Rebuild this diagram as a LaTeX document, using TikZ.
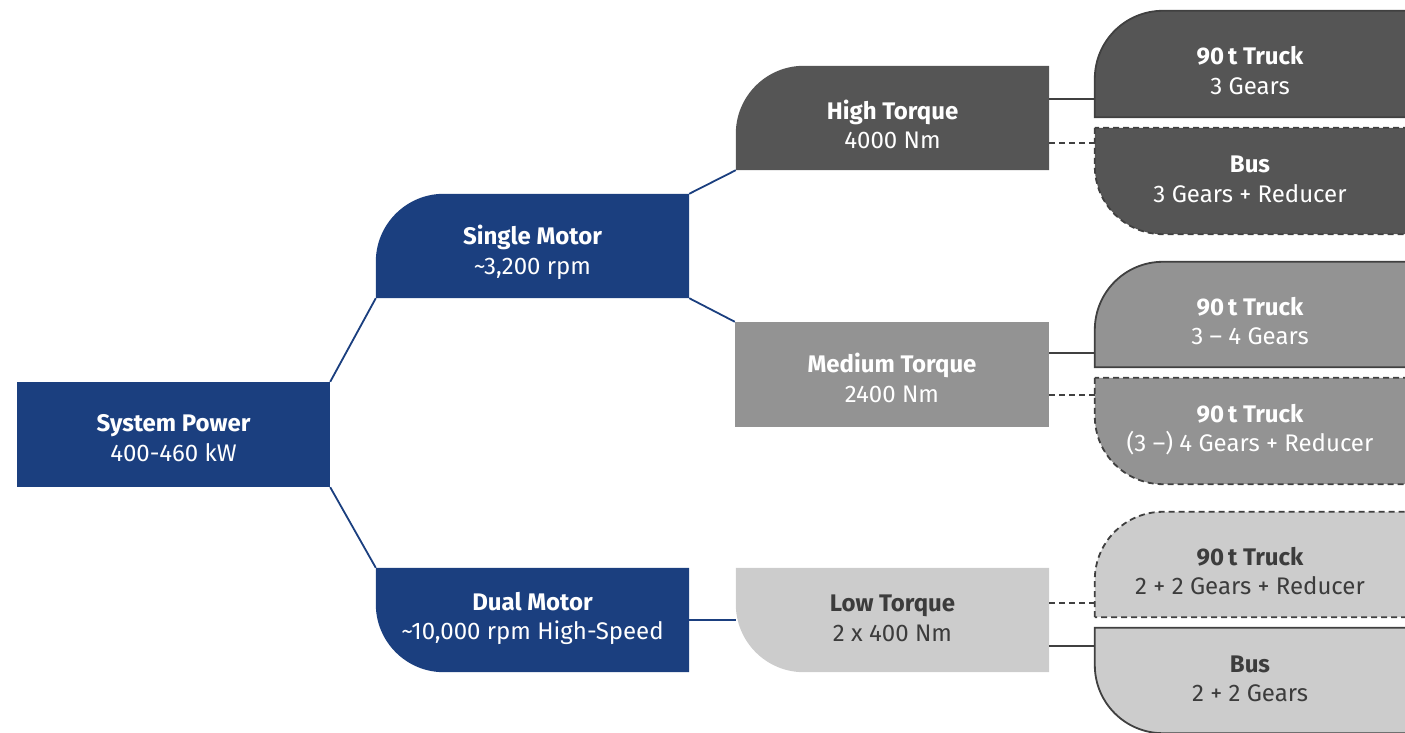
\documentclass[tikz,border=0pt]{standalone}
\usepackage{fontspec}
\setmainfont{Fira Sans}
\usetikzlibrary{backgrounds}
\definecolor{navy}{HTML}{1B3F7F}
\definecolor{gdark}{HTML}{555555}
\definecolor{gmid}{HTML}{939393}
\definecolor{glight}{HTML}{CCCCCC}
\definecolor{gline}{HTML}{404040}
\definecolor{gtext}{HTML}{3C3C3C}
\newcommand\shpTL[4]{% node, style, radius, extra right
  \path[#2] (#1.south west) -- ([yshift=-#3]#1.north west)
    arc[start angle=180,end angle=90,radius=#3] -- ([xshift=#4]#1.north east)
    -- ([xshift=#4]#1.south east) -- cycle;}
\newcommand\shpBL[4]{%
  \path[#2] (#1.north west) -- ([yshift=#3]#1.south west)
    arc[start angle=180,end angle=270,radius=#3] -- ([xshift=#4]#1.south east)
    -- ([xshift=#4]#1.north east) -- cycle;}
\newcommand\shpR[4]{%
  \path[#2] (#1.north west) -- ([xshift=#4]#1.north east)
    -- ([xshift=#4]#1.south east) -- (#1.south west) -- cycle;}
\begin{document}
\begin{tikzpicture}[x=1pt,y=1pt,
  box/.style={minimum width=313pt, minimum height=104pt, inner sep=0pt},
  rbox/.style={box, minimum width=310pt, minimum height=106pt},
  lbl/.style={align=center, font=\fontsize{24}{29.5}\selectfont, text=white,
    inner sep=0pt},
  tl/.style={yshift=-6.5pt},
  bl/.style={yshift=1.5pt},
  rc/.style={yshift=-3.5pt},
  dk/.style={text=gtext},
  blueline/.style={draw=navy, line width=1.8pt},
  greyline/.style={draw=gline, line width=1.8pt},
  dashline/.style={greyline, dash pattern=on 6pt off 4pt},
  solidedge/.style={draw=gline, line width=1.8pt},
  dashedge/.style={draw=gline, line width=1.8pt, dash pattern=on 6pt off 4pt}]
\useasboundingbox (0,0) rectangle (1405,733);
\clip (0,0) rectangle (1405,733);
% nodes
\node[box, minimum height=105pt, label={[lbl,rc]center:{\bfseries System Power\\400-460 kW}}] (sp) at (173.5,298.5) {};
\node[box, label={[lbl,tl]center:{\bfseries Single Motor\\\char`~3,200 rpm}}] (sm) at (532.5,487) {};
\node[box, label={[lbl,bl]center:{\bfseries Dual Motor\\\char`~10,000 rpm High-Speed}}] (dm) at (532.5,113) {};
\node[box, label={[lbl,tl]center:{\bfseries High Torque\\4000 Nm}}] (ht) at (892.5,615) {};
\node[box, minimum width=314pt, minimum height=105pt, label={[lbl,rc]center:{\bfseries Medium Torque\\2400 Nm}}] (mt) at (892,358.5) {};
\node[box, label={[lbl,bl,dk]center:{\bfseries Low Torque\\2 x 400 Nm}}] (lt) at (892.5,113) {};
\node[rbox, label={[lbl,tl]center:{\bfseries 90\,t Truck\\3 Gears}}] (r1) at (1250,669) {};
\node[rbox, label={[lbl,bl]center:{\bfseries Bus\\3 Gears + Reducer}}] (r2) at (1250,552) {};
\node[rbox, minimum height=105pt, label={[lbl,tl]center:{\bfseries 90\,t Truck\\3 – 4 Gears}}] (r3) at (1250,418.5) {};
\node[rbox, label={[lbl,bl]center:{\bfseries 90\,t Truck\\(3 –) 4 Gears + Reducer}}] (r4) at (1250,302) {};
\node[rbox, minimum height=105pt, label={[lbl,tl,dk]center:{\bfseries 90\,t Truck\\2 + 2 Gears + Reducer}}] (r5) at (1250,168.5) {};
\node[rbox, minimum height=105pt, label={[lbl,bl,dk]center:{\bfseries Bus\\2 + 2 Gears}}] (r6) at (1250,52.5) {};
% shapes
\begin{scope}[on background layer]
  \shpR{sp}{fill=navy}{0pt}{0pt}
  \shpTL{sm}{fill=navy}{68pt}{0pt}
  \shpBL{dm}{fill=navy}{68pt}{0pt}
  \shpTL{ht}{fill=gdark}{68pt}{0pt}
  \shpR{mt}{fill=gmid}{0pt}{0pt}
  \shpBL{lt}{fill=glight}{68pt}{0pt}
  \shpTL{r1}{fill=gdark, solidedge}{68pt}{30pt}
  \shpBL{r2}{fill=gdark, dashedge}{68pt}{30pt}
  \shpTL{r3}{fill=gmid, solidedge}{68pt}{30pt}
  \shpBL{r4}{fill=gmid, dashedge}{68pt}{30pt}
  \shpTL{r5}{fill=glight, dashedge}{68pt}{30pt}
  \shpBL{r6}{fill=glight, solidedge}{68pt}{30pt}
\end{scope}
% connectors
\draw[blueline] (sp.north east) -- (sm.south west);
\draw[blueline] (sp.south east) -- (dm.north west);
\draw[blueline] (sm.north east) -- (ht.south west);
\draw[blueline] (sm.south east) -- (mt.north west);
\draw[blueline] (dm.east) -- (lt.west);
\draw[greyline] ([yshift=19pt]ht.east) -- ([yshift=19pt]ht.east -| r1.west);
\draw[dashline] ([yshift=-25pt]ht.east) -- ([yshift=-25pt]ht.east -| r2.west);
\draw[greyline] ([yshift=21.5pt]mt.east) -- ([yshift=21.5pt]mt.east -| r3.west);
\draw[dashline] ([yshift=-20.5pt]mt.east) -- ([yshift=-20.5pt]mt.east -| r4.west);
\draw[dashline] ([yshift=17pt]lt.east) -- ([yshift=17pt]lt.east -| r5.west);
\draw[greyline] ([yshift=-26pt]lt.east) -- ([yshift=-26pt]lt.east -| r6.west);
\end{tikzpicture}
\end{document}
